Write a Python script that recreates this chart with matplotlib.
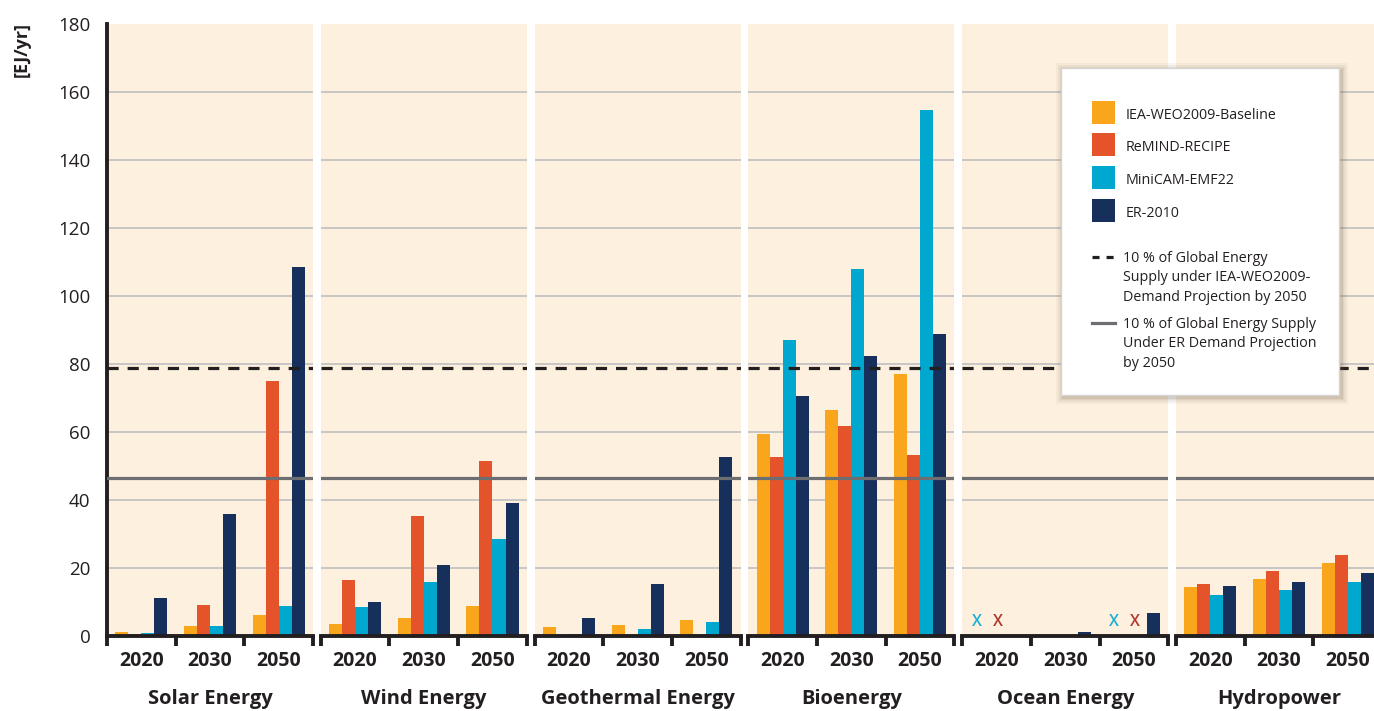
import matplotlib.pyplot as plt
from matplotlib.patches import Rectangle

plt.rcParams['font.family'] = ['Open Sans', 'DejaVu Sans']

W, H = 1374, 711

PANELS = ['Solar Energy', 'Wind Energy', 'Geothermal Energy', 'Bioenergy', 'Ocean Energy', 'Hydropower']
YEARS = ['2020', '2030', '2050']
SCENARIOS = ['IEA-WEO2009-Baseline', 'ReMIND-RECIPE', 'MiniCAM-EMF22', 'ER-2010']
COLORS = ['#F9A61C', '#E4532A', '#00A8D0', '#172F5B']

# EJ/yr, one list of [2020, 2030, 2050] per panel
iea = [[1.2, 2.8, 6.1], [3.4, 5.3, 8.8], [2.6, 3.2, 4.7], [59.5, 66.5, 77.0], [0, 0, 0], [14.5, 16.9, 21.4]]
remind = [[0.6, 9.1, 75.0], [16.5, 35.2, 51.4], [0, 0, 0], [52.6, 61.8, 53.1], [0, 0, 0], [15.2, 19.0, 23.7]]
minicam = [[1.0, 2.9, 8.8], [8.5, 15.8, 28.5], [0.6, 2.0, 4.2], [87.2, 108.0, 154.7], [0, 0, 0], [12.2, 13.4, 15.9]]
er = [[11.2, 36.0, 108.4], [10.0, 20.9, 39.0], [5.3, 15.3, 52.6], [70.5, 82.5, 88.9], [0.3, 1.3, 6.9], [14.7, 15.9, 18.5]]
SERIES = [iea, remind, minicam, er]

# "x" = no data (ocean energy): (year index, scenario index)
ocean_nodata = [(0, 2), (0, 1), (2, 2), (2, 1)]
NODATA_COLORS = {2: '#1AAFD4', 1: '#B0372B'}
NODATA_OFFSET = {2: -1.5, 1: 0.1}

IEA_10PCT = 78.8
ER_10PCT = 46.6

LEGEND_LINES = [
    ('--', '#231F20', ['10 % of Global Energy', 'Supply under IEA-WEO2009-', 'Demand Projection by 2050']),
    ('-', '#6D6E71', ['10 % of Global Energy Supply', 'Under ER Demand Projection', 'by 2050']),
]

BG = '#FDF0DE'
GRID = '#BEBFC1'
BW = 0.19

fig = plt.figure(figsize=(W / 100, H / 100), dpi=100)

for p, name in enumerate(PANELS):
    left = 107 + 213.8 * p
    ax = fig.add_axes([left / W, 75 / H, 206 / W, 612 / H])
    ax.set_facecolor(BG)
    ax.set_xlim(0, 3)
    ax.set_ylim(0, 180)
    for s, vals in enumerate(SERIES):
        xs = [g + 0.5 + (s - 1.5) * BW for g in range(3)]
        ax.bar(xs, vals[p], width=BW, color=COLORS[s], zorder=2, linewidth=0)
    for yv in range(20, 180, 20):
        ax.axhline(yv, color=GRID, lw=1.2, zorder=1)
    ax.axhline(IEA_10PCT, color='#231F20', lw=2.3, ls=(0, (3.5, 2.8)), zorder=3)
    ax.axhline(ER_10PCT, color='#6D6E71', lw=2.3, zorder=3)

    if name == 'Ocean Energy':
        for g, s in ocean_nodata:
            ax.text(g + 0.5 + NODATA_OFFSET[s] * BW, 4.2, 'X', color=NODATA_COLORS[s],
                    fontsize=11.5, fontweight='semibold', ha='center', va='center', zorder=4)

    for side in ['top', 'right']:
        ax.spines[side].set_visible(False)
    ax.spines['bottom'].set_linewidth(2.8)
    ax.spines['bottom'].set_color('#231F20')
    ax.set_xticks([0, 1, 2, 3])
    ax.set_xticklabels([])
    ax.set_xticks([0.5, 1.5, 2.5], minor=True)
    ax.set_xticklabels(YEARS, minor=True, fontsize=14, fontweight='bold', color='#231F20')
    ax.tick_params(axis='x', which='major', length=7, width=2.8, color='#231F20')
    ax.tick_params(axis='x', which='minor', length=0, pad=11)
    fig.text((left + 103) / W, 12 / H, name, ha='center', va='center',
             fontsize=14.5, fontweight='bold', color='#231F20')

    if p == 0:
        ax.spines['left'].set_linewidth(2.8)
        ax.spines['left'].set_color('#231F20')
        ax.set_yticks(range(0, 181, 20))
        ax.tick_params(axis='y', length=0, pad=12, labelsize=13.5, labelcolor='#231F20')
    else:
        ax.spines['left'].set_visible(False)
        ax.set_yticks([])

fig.text(22 / W, (H - 22) / H, '[EJ/yr]', rotation=90, ha='center', va='top',
         fontsize=13, fontweight='bold', color='#231F20')

# legend box with soft shadow
lx0, ly0, lx1, ly1 = 1061, 68, 1339, 395
for k, a in [(7, 0.05), (5, 0.07), (3, 0.09), (1.5, 0.12)]:
    fig.patches.append(Rectangle(((lx0 - k + 2) / W, (H - ly1 - k - 2) / H),
                                 (lx1 - lx0 + 2 * k) / W, (ly1 - ly0 + 2 * k) / H,
                                 transform=fig.transFigure, color='#6b5a45', alpha=a,
                                 lw=0, zorder=5))
lax = fig.add_axes([lx0 / W, (H - ly1) / H, (lx1 - lx0) / W, (ly1 - ly0) / H], zorder=10)
lax.set_xlim(lx0, lx1)
lax.set_ylim(ly1, ly0)
lax.set_xticks([])
lax.set_yticks([])
for sp in lax.spines.values():
    sp.set_color('#D5D5D5')
    sp.set_linewidth(1)

for i, (lab, col) in enumerate(zip(SCENARIOS, COLORS)):
    yc = 112 + 32.8 * i
    lax.add_patch(Rectangle((1092, yc - 11.5), 23, 23, color=col, lw=0))
    lax.text(1126, yc + 3, lab, fontsize=10.3, va='center', ha='left', color='#231F20')

for i, (ls, col, lines) in enumerate(LEGEND_LINES):
    y0 = 257 + 66 * i
    lax.plot([1092, 1115], [y0, y0], ls=ls if ls == '-' else (0, (2.2, 2.2)), color=col, lw=2.3)
    for k, line in enumerate(lines):
        lax.text(1123, y0 + 1 + 19.5 * k, line, fontsize=10.3, va='center', ha='left', color='#231F20')

fig.savefig('out.png', dpi=100)
